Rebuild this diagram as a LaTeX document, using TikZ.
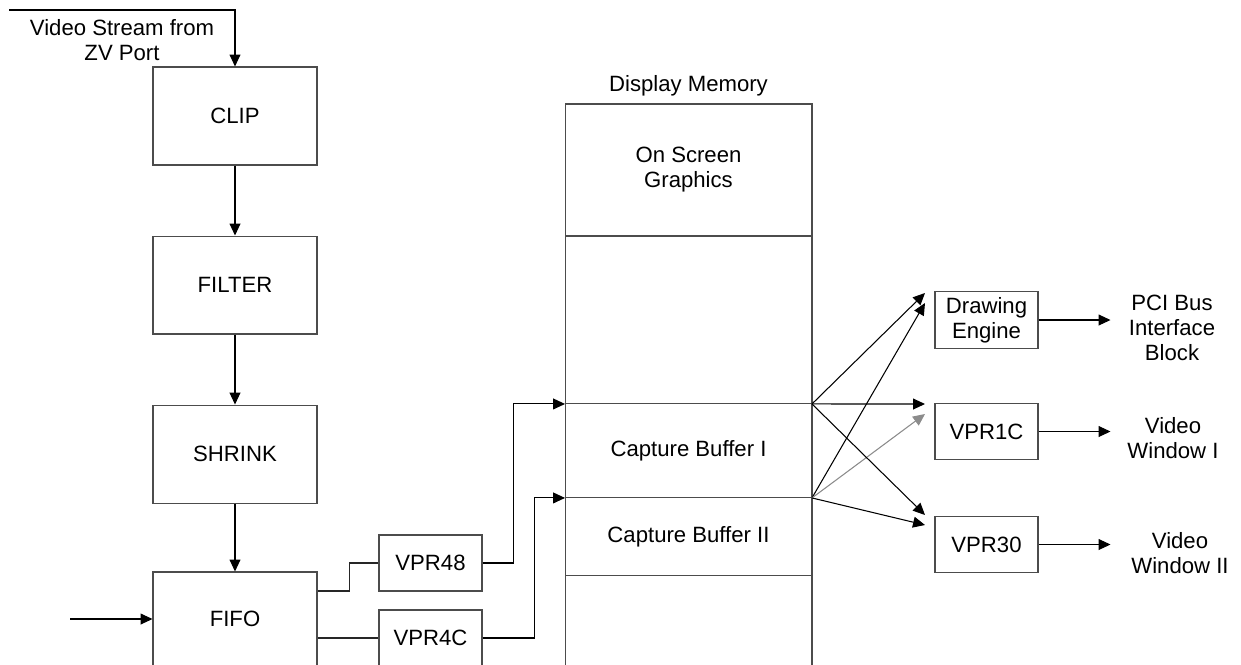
\documentclass[tikz,border=0pt]{standalone}
\usepackage{fontspec}
\setmainfont{Liberation Sans}
\usetikzlibrary{arrows.meta,positioning}

\begin{document}
\begin{tikzpicture}[x=0.02cm,y=-0.02cm,
  every node/.style={font=\fontsize{12.6}{14.2}\selectfont},
  box/.style={draw=black!70, line width=0.6pt, minimum width=3.28cm, minimum height=1.96cm},
  reg/.style={draw=black!70, line width=0.6pt, minimum width=2.06cm, minimum height=1.12cm, align=center},
  mem/.style={draw=black!70, line width=0.6pt, minimum width=4.94cm, inner sep=0pt, outer sep=0pt, align=center},
  lbl/.style={align=center},
  arr/.style={-{Triangle[length=6.8pt,width=6.2pt]}, line width=0.6pt},
  ln/.style={line width=0.6pt, draw=black!85}]
\clip (0,0) rectangle (1241,664);
%----------------------------------
\node[box] (clip) at (235,116) {CLIP};
\node[box, below=1.4cm of clip] (filter) {FILTER};
\node[box, below=1.4cm of filter] (shrink) {SHRINK};
\node[box, minimum height=1.88cm] (fifo) at (235,619) {FIFO};
\coordinate (vin) at (9,10);
\coordinate (fin) at (70,619);
\node[lbl] (vslabel) at (122,40) {Video Stream from\\ZV Port};
%----------------------------------
\node[reg] (vpr48) at (430.5,563) {VPR48};
\node[reg] (vpr4c) at (430.5,638) {VPR4C};
%----------------------------------
\node[mem, minimum height=2.64cm] (osg) at (688.5,170) {On Screen\\Graphics};
\node[mem, minimum height=3.36cm, below=0pt of osg] (mem1) {};
\node[mem, minimum height=1.88cm, below=0pt of mem1] (cb1) {Capture Buffer I};
\node[mem, minimum height=1.56cm, below=0pt of cb1] (cb2) {Capture Buffer II};
\node[mem, minimum height=2cm, below=0pt of cb2] (mem2) {};
\node[lbl, above=1pt of osg] (dmlabel) {Display Memory};
%----------------------------------
\node[reg] (deng) at (986.5,320) {Drawing\\Engine};
\node[reg] (vpr1c) at (986.5,431.5) {VPR1C};
\node[reg] (vpr30) at (986.5,544.5) {VPR30};
\coordinate (d1) at (925,293); \coordinate (d2) at (925,303);
\coordinate (v1) at (925,404); \coordinate (v2) at (925,414);
\coordinate (w1) at (925,515); \coordinate (w2) at (925,525);
%--------------------------------
\node[lbl] (pci) at (1172,328) {PCI Bus\\Interface\\Block};
\node[lbl] (vw1) at (1173,438) {Video\\Window I};
\node[lbl] (vw2) at (1180,553) {Video\\Window II};
%--------------------------------
\draw[arr] (vin) -| (clip.north);
\draw[arr] (clip) -- (filter);
\draw[arr] (filter) -- (shrink);
\draw[arr] (shrink) -- (fifo);
\draw[arr] (fin) -- (fin -| fifo.west);
\draw[ln] ([yshift=0.56cm]fifo.east) -- ++(32,0) |- (vpr48.west);
\draw[ln] (fifo.east |- vpr4c.west) -- (vpr4c.west);
\draw[arr] (vpr48.east) -- ++(31,0) |- (cb1.north west);
\draw[arr] (vpr4c.east) -- ++(52,0) |- (cb2.north west);
%--------------------------------
\draw[arr] (cb1.north east) -- (d1);
\draw[arr] (cb2.north east) -- (d2);
\draw[arr] (cb1.north east) -- (v1);
\draw[arr, draw=black!45, fill=black!45] (cb2.north east) -- (v2);
\draw[arr] (cb1.north east) -- (w1);
\draw[arr] (cb2.north east) -- (w2);
\draw[arr] (deng.east) -- ++(72,0);
\draw[arr] (vpr1c.east) -- ++(72,0);
\draw[arr] (vpr30.east) -- ++(72,0);
\end{tikzpicture}
\end{document}
